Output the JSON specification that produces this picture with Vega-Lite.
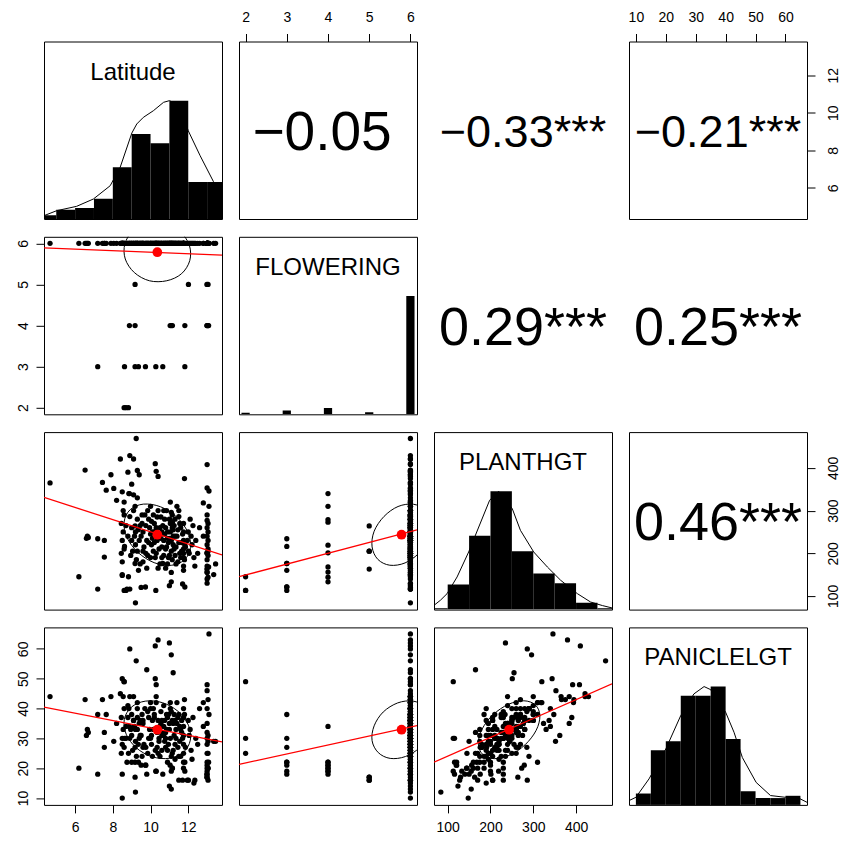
{
"$schema": "https://vega.github.io/schema/vega-lite/v6.json",
"padding": {"left": 15, "top": 9.5, "right": 0, "bottom": 0},
"config": {
 "font": "Liberation Sans",
 "view": {"stroke": "black", "strokeWidth": 1},
 "text": {"font": "Liberation Sans", "color": "black"}
},
"datasets": {
 "obs": [
  {"Latitude":4.67,"FLOWERING":6,"PLANTHGT":365,"PANICLELGT":44},
  {"Latitude":6.2,"FLOWERING":6,"PLANTHGT":145,"PANICLELGT":20},
  {"Latitude":6.53,"FLOWERING":6,"PLANTHGT":395,"PANICLELGT":43},
  {"Latitude":6.7,"FLOWERING":6,"PLANTHGT":237,"PANICLELGT":32},
  {"Latitude":6.6,"FLOWERING":6,"PLANTHGT":235,"PANICLELGT":31},
  {"Latitude":6.65,"FLOWERING":6,"PLANTHGT":240,"PANICLELGT":33},
  {"Latitude":7.2,"FLOWERING":6,"PLANTHGT":116,"PANICLELGT":18},
  {"Latitude":7.45,"FLOWERING":6,"PLANTHGT":366,"PANICLELGT":43},
  {"Latitude":7.65,"FLOWERING":6,"PLANTHGT":348,"PANICLELGT":38},
  {"Latitude":7.55,"FLOWERING":6,"PLANTHGT":191,"PANICLELGT":27},
  {"Latitude":7.55,"FLOWERING":6,"PLANTHGT":230,"PANICLELGT":32},
  {"Latitude":7.9,"FLOWERING":6,"PLANTHGT":384,"PANICLELGT":44},
  {"Latitude":8.05,"FLOWERING":6,"PLANTHGT":352,"PANICLELGT":29},
  {"Latitude":8.2,"FLOWERING":6,"PLANTHGT":324,"PANICLELGT":35},
  {"Latitude":8.4,"FLOWERING":6,"PLANTHGT":421,"PANICLELGT":45},
  {"Latitude":8.5,"FLOWERING":6,"PLANTHGT":344,"PANICLELGT":50},
  {"Latitude":8.6,"FLOWERING":6,"PLANTHGT":320,"PANICLELGT":49},
  {"Latitude":8.5,"FLOWERING":6,"PLANTHGT":150,"PANICLELGT":18},
  {"Latitude":8.5,"FLOWERING":6,"PLANTHGT":148,"PANICLELGT":10},
  {"Latitude":8.45,"FLOWERING":6,"PLANTHGT":270,"PANICLELGT":37},
  {"Latitude":8.55,"FLOWERING":6,"PLANTHGT":250,"PANICLELGT":33},
  {"Latitude":8.5,"FLOWERING":6,"PLANTHGT":230,"PANICLELGT":30},
  {"Latitude":8.6,"FLOWERING":6,"PLANTHGT":210,"PANICLELGT":27},
  {"Latitude":8.45,"FLOWERING":6,"PLANTHGT":200,"PANICLELGT":25},
  {"Latitude":8.6,"FLOWERING":6,"PLANTHGT":290,"PANICLELGT":40},
  {"Latitude":8.5,"FLOWERING":6,"PLANTHGT":180,"PANICLELGT":28},
  {"Latitude":9.24,"FLOWERING":6,"PLANTHGT":469,"PANICLELGT":56},
  {"Latitude":8.9,"FLOWERING":6,"PLANTHGT":429,"PANICLELGT":44},
  {"Latitude":9.1,"FLOWERING":6,"PLANTHGT":421,"PANICLELGT":44},
  {"Latitude":8.9,"FLOWERING":6,"PLANTHGT":286,"PANICLELGT":60},
  {"Latitude":8.8,"FLOWERING":6,"PLANTHGT":390,"PANICLELGT":37},
  {"Latitude":9.3,"FLOWERING":6,"PLANTHGT":394,"PANICLELGT":42},
  {"Latitude":9.4,"FLOWERING":6,"PLANTHGT":384,"PANICLELGT":35},
  {"Latitude":9.0,"FLOWERING":6,"PLANTHGT":362,"PANICLELGT":31},
  {"Latitude":8.85,"FLOWERING":6,"PLANTHGT":340,"PANICLELGT":40},
  {"Latitude":9.1,"FLOWERING":6,"PLANTHGT":337,"PANICLELGT":36},
  {"Latitude":9.3,"FLOWERING":6,"PLANTHGT":330,"PANICLELGT":33},
  {"Latitude":8.75,"FLOWERING":6,"PLANTHGT":116,"PANICLELGT":22},
  {"Latitude":8.9,"FLOWERING":6,"PLANTHGT":116,"PANICLELGT":30},
  {"Latitude":9.2,"FLOWERING":6,"PLANTHGT":84,"PANICLELGT":12},
  {"Latitude":9.5,"FLOWERING":6,"PLANTHGT":120,"PANICLELGT":21},
  {"Latitude":9.0,"FLOWERING":6,"PLANTHGT":260,"PANICLELGT":38},
  {"Latitude":9.15,"FLOWERING":6,"PLANTHGT":240,"PANICLELGT":34},
  {"Latitude":9.2,"FLOWERING":6,"PLANTHGT":220,"PANICLELGT":29},
  {"Latitude":9.05,"FLOWERING":6,"PLANTHGT":205,"PANICLELGT":26},
  {"Latitude":9.3,"FLOWERING":6,"PLANTHGT":280,"PANICLELGT":40},
  {"Latitude":9.25,"FLOWERING":6,"PLANTHGT":185,"PANICLELGT":24},
  {"Latitude":9.1,"FLOWERING":6,"PLANTHGT":300,"PANICLELGT":36},
  {"Latitude":9.8,"FLOWERING":6,"PLANTHGT":165,"PANICLELGT":53},
  {"Latitude":9.75,"FLOWERING":6,"PLANTHGT":200,"PANICLELGT":21},
  {"Latitude":9.8,"FLOWERING":6,"PLANTHGT":230,"PANICLELGT":18},
  {"Latitude":9.6,"FLOWERING":6,"PLANTHGT":250,"PANICLELGT":35},
  {"Latitude":9.55,"FLOWERING":6,"PLANTHGT":270,"PANICLELGT":38},
  {"Latitude":9.7,"FLOWERING":6,"PLANTHGT":290,"PANICLELGT":40},
  {"Latitude":9.9,"FLOWERING":6,"PLANTHGT":225,"PANICLELGT":30},
  {"Latitude":9.65,"FLOWERING":6,"PLANTHGT":215,"PANICLELGT":28},
  {"Latitude":9.95,"FLOWERING":6,"PLANTHGT":260,"PANICLELGT":33},
  {"Latitude":9.5,"FLOWERING":6,"PLANTHGT":240,"PANICLELGT":31},
  {"Latitude":9.85,"FLOWERING":6,"PLANTHGT":195,"PANICLELGT":25},
  {"Latitude":10.0,"FLOWERING":6,"PLANTHGT":310,"PANICLELGT":42},
  {"Latitude":9.6,"FLOWERING":6,"PLANTHGT":180,"PANICLELGT":27},
  {"Latitude":10.25,"FLOWERING":6,"PLANTHGT":410,"PANICLELGT":61},
  {"Latitude":10.4,"FLOWERING":6,"PLANTHGT":380,"PANICLELGT":63},
  {"Latitude":10.3,"FLOWERING":6,"PLANTHGT":392,"PANICLELGT":48},
  {"Latitude":10.3,"FLOWERING":6,"PLANTHGT":240,"PANICLELGT":44},
  {"Latitude":10.3,"FLOWERING":6,"PLANTHGT":200,"PANICLELGT":19},
  {"Latitude":10.1,"FLOWERING":6,"PLANTHGT":250,"PANICLELGT":36},
  {"Latitude":10.2,"FLOWERING":6,"PLANTHGT":270,"PANICLELGT":38},
  {"Latitude":10.35,"FLOWERING":6,"PLANTHGT":230,"PANICLELGT":32},
  {"Latitude":10.45,"FLOWERING":6,"PLANTHGT":210,"PANICLELGT":30},
  {"Latitude":10.15,"FLOWERING":6,"PLANTHGT":290,"PANICLELGT":40},
  {"Latitude":10.5,"FLOWERING":6,"PLANTHGT":260,"PANICLELGT":34},
  {"Latitude":10.05,"FLOWERING":6,"PLANTHGT":220,"PANICLELGT":28},
  {"Latitude":10.4,"FLOWERING":6,"PLANTHGT":300,"PANICLELGT":36},
  {"Latitude":10.25,"FLOWERING":6,"PLANTHGT":190,"PANICLELGT":26},
  {"Latitude":10.45,"FLOWERING":6,"PLANTHGT":245,"PANICLELGT":29},
  {"Latitude":10.1,"FLOWERING":6,"PLANTHGT":235,"PANICLELGT":24},
  {"Latitude":11.0,"FLOWERING":6,"PLANTHGT":235,"PANICLELGT":62},
  {"Latitude":11.1,"FLOWERING":6,"PLANTHGT":296,"PANICLELGT":58},
  {"Latitude":11.2,"FLOWERING":6,"PLANTHGT":255,"PANICLELGT":52},
  {"Latitude":11.0,"FLOWERING":6,"PLANTHGT":124,"PANICLELGT":14},
  {"Latitude":11.1,"FLOWERING":6,"PLANTHGT":155,"PANICLELGT":13},
  {"Latitude":11.05,"FLOWERING":6,"PLANTHGT":270,"PANICLELGT":40},
  {"Latitude":10.9,"FLOWERING":6,"PLANTHGT":250,"PANICLELGT":37},
  {"Latitude":10.7,"FLOWERING":6,"PLANTHGT":230,"PANICLELGT":34},
  {"Latitude":10.8,"FLOWERING":6,"PLANTHGT":210,"PANICLELGT":30},
  {"Latitude":11.15,"FLOWERING":6,"PLANTHGT":290,"PANICLELGT":36},
  {"Latitude":10.65,"FLOWERING":6,"PLANTHGT":265,"PANICLELGT":32},
  {"Latitude":10.95,"FLOWERING":6,"PLANTHGT":190,"PANICLELGT":28},
  {"Latitude":11.2,"FLOWERING":6,"PLANTHGT":220,"PANICLELGT":26},
  {"Latitude":10.85,"FLOWERING":6,"PLANTHGT":300,"PANICLELGT":38},
  {"Latitude":11.0,"FLOWERING":6,"PLANTHGT":280,"PANICLELGT":33},
  {"Latitude":10.75,"FLOWERING":6,"PLANTHGT":245,"PANICLELGT":29},
  {"Latitude":11.1,"FLOWERING":6,"PLANTHGT":205,"PANICLELGT":24},
  {"Latitude":10.9,"FLOWERING":6,"PLANTHGT":175,"PANICLELGT":22},
  {"Latitude":11.05,"FLOWERING":6,"PLANTHGT":320,"PANICLELGT":42},
  {"Latitude":10.7,"FLOWERING":6,"PLANTHGT":195,"PANICLELGT":31},
  {"Latitude":11.2,"FLOWERING":6,"PLANTHGT":240,"PANICLELGT":35},
  {"Latitude":10.8,"FLOWERING":6,"PLANTHGT":260,"PANICLELGT":27},
  {"Latitude":11.15,"FLOWERING":6,"PLANTHGT":185,"PANICLELGT":20},
  {"Latitude":10.95,"FLOWERING":6,"PLANTHGT":225,"PANICLELGT":38},
  {"Latitude":11.8,"FLOWERING":6,"PLANTHGT":375,"PANICLELGT":43},
  {"Latitude":11.7,"FLOWERING":6,"PLANTHGT":128,"PANICLELGT":16},
  {"Latitude":11.5,"FLOWERING":6,"PLANTHGT":286,"PANICLELGT":16},
  {"Latitude":11.75,"FLOWERING":6,"PLANTHGT":250,"PANICLELGT":40},
  {"Latitude":11.75,"FLOWERING":6,"PLANTHGT":230,"PANICLELGT":37},
  {"Latitude":11.75,"FLOWERING":6,"PLANTHGT":210,"PANICLELGT":34},
  {"Latitude":11.75,"FLOWERING":6,"PLANTHGT":190,"PANICLELGT":31},
  {"Latitude":11.75,"FLOWERING":6,"PLANTHGT":270,"PANICLELGT":28},
  {"Latitude":11.75,"FLOWERING":6,"PLANTHGT":170,"PANICLELGT":25},
  {"Latitude":11.75,"FLOWERING":6,"PLANTHGT":200,"PANICLELGT":22},
  {"Latitude":11.75,"FLOWERING":6,"PLANTHGT":160,"PANICLELGT":20},
  {"Latitude":11.4,"FLOWERING":6,"PLANTHGT":240,"PANICLELGT":35},
  {"Latitude":11.6,"FLOWERING":6,"PLANTHGT":260,"PANICLELGT":33},
  {"Latitude":11.35,"FLOWERING":6,"PLANTHGT":215,"PANICLELGT":30},
  {"Latitude":11.5,"FLOWERING":6,"PLANTHGT":300,"PANICLELGT":38},
  {"Latitude":11.45,"FLOWERING":6,"PLANTHGT":180,"PANICLELGT":27},
  {"Latitude":11.65,"FLOWERING":6,"PLANTHGT":225,"PANICLELGT":32},
  {"Latitude":11.3,"FLOWERING":6,"PLANTHGT":280,"PANICLELGT":36},
  {"Latitude":11.55,"FLOWERING":6,"PLANTHGT":200,"PANICLELGT":29},
  {"Latitude":11.4,"FLOWERING":6,"PLANTHGT":310,"PANICLELGT":42},
  {"Latitude":11.6,"FLOWERING":6,"PLANTHGT":190,"PANICLELGT":24},
  {"Latitude":11.95,"FLOWERING":6,"PLANTHGT":230,"PANICLELGT":16},
  {"Latitude":12.2,"FLOWERING":6,"PLANTHGT":220,"PANICLELGT":23},
  {"Latitude":12.3,"FLOWERING":6,"PLANTHGT":190,"PANICLELGT":15},
  {"Latitude":12.35,"FLOWERING":6,"PLANTHGT":170,"PANICLELGT":16},
  {"Latitude":12.6,"FLOWERING":6,"PLANTHGT":260,"PANICLELGT":40},
  {"Latitude":12.8,"FLOWERING":6,"PLANTHGT":318,"PANICLELGT":42},
  {"Latitude":12.8,"FLOWERING":6,"PLANTHGT":240,"PANICLELGT":34},
  {"Latitude":12.1,"FLOWERING":6,"PLANTHGT":280,"PANICLELGT":33},
  {"Latitude":12.4,"FLOWERING":6,"PLANTHGT":230,"PANICLELGT":30},
  {"Latitude":12.5,"FLOWERING":6,"PLANTHGT":200,"PANICLELGT":28},
  {"Latitude":13.1,"FLOWERING":6,"PLANTHGT":346,"PANICLELGT":65},
  {"Latitude":13.0,"FLOWERING":6,"PLANTHGT":408,"PANICLELGT":48},
  {"Latitude":13.0,"FLOWERING":6,"PLANTHGT":353,"PANICLELGT":46},
  {"Latitude":13.1,"FLOWERING":6,"PLANTHGT":310,"PANICLELGT":38},
  {"Latitude":13.0,"FLOWERING":6,"PLANTHGT":277,"PANICLELGT":35},
  {"Latitude":13.0,"FLOWERING":6,"PLANTHGT":260,"PANICLELGT":32},
  {"Latitude":13.0,"FLOWERING":6,"PLANTHGT":240,"PANICLELGT":30},
  {"Latitude":13.0,"FLOWERING":6,"PLANTHGT":220,"PANICLELGT":28},
  {"Latitude":13.0,"FLOWERING":6,"PLANTHGT":200,"PANICLELGT":25},
  {"Latitude":13.0,"FLOWERING":6,"PLANTHGT":185,"PANICLELGT":22},
  {"Latitude":13.0,"FLOWERING":6,"PLANTHGT":170,"PANICLELGT":20},
  {"Latitude":13.0,"FLOWERING":6,"PLANTHGT":155,"PANICLELGT":19},
  {"Latitude":13.0,"FLOWERING":6,"PLANTHGT":140,"PANICLELGT":18},
  {"Latitude":13.0,"FLOWERING":6,"PLANTHGT":130,"PANICLELGT":17},
  {"Latitude":13.05,"FLOWERING":6,"PLANTHGT":250,"PANICLELGT":25},
  {"Latitude":13.05,"FLOWERING":6,"PLANTHGT":230,"PANICLELGT":20},
  {"Latitude":13.05,"FLOWERING":6,"PLANTHGT":210,"PANICLELGT":31},
  {"Latitude":13.05,"FLOWERING":6,"PLANTHGT":195,"PANICLELGT":29},
  {"Latitude":13.35,"FLOWERING":6,"PLANTHGT":150,"PANICLELGT":29},
  {"Latitude":13.45,"FLOWERING":6,"PLANTHGT":175,"PANICLELGT":29},
  {"Latitude":10.25,"FLOWERING":6,"PLANTHGT":251,"PANICLELGT":50},
  {"Latitude":9.45,"FLOWERING":6,"PLANTHGT":265,"PANICLELGT":36},
  {"Latitude":10.55,"FLOWERING":6,"PLANTHGT":285,"PANICLELGT":39},
  {"Latitude":10.6,"FLOWERING":6,"PLANTHGT":215,"PANICLELGT":26},
  {"Latitude":11.25,"FLOWERING":6,"PLANTHGT":265,"PANICLELGT":31},
  {"Latitude":10.0,"FLOWERING":6,"PLANTHGT":245,"PANICLELGT":30},
  {"Latitude":9.9,"FLOWERING":6,"PLANTHGT":280,"PANICLELGT":37},
  {"Latitude":10.7,"FLOWERING":6,"PLANTHGT":300,"PANICLELGT":41},
  {"Latitude":11.3,"FLOWERING":6,"PLANTHGT":195,"PANICLELGT":23},
  {"Latitude":8.7,"FLOWERING":6,"PLANTHGT":265,"PANICLELGT":34},
  {"Latitude":12.0,"FLOWERING":6,"PLANTHGT":250,"PANICLELGT":36},
  {"Latitude":10.5,"FLOWERING":6,"PLANTHGT":175,"PANICLELGT":24},
  {"Latitude":9.35,"FLOWERING":6,"PLANTHGT":255,"PANICLELGT":28},
  {"Latitude":9.2,"FLOWERING":6,"PLANTHGT":250,"PANICLELGT":33},
  {"Latitude":9.4,"FLOWERING":6,"PLANTHGT":230,"PANICLELGT":30},
  {"Latitude":9.6,"FLOWERING":6,"PLANTHGT":205,"PANICLELGT":36},
  {"Latitude":9.75,"FLOWERING":6,"PLANTHGT":265,"PANICLELGT":27},
  {"Latitude":9.85,"FLOWERING":6,"PLANTHGT":300,"PANICLELGT":39},
  {"Latitude":10.05,"FLOWERING":6,"PLANTHGT":275,"PANICLELGT":31},
  {"Latitude":10.15,"FLOWERING":6,"PLANTHGT":205,"PANICLELGT":33},
  {"Latitude":10.2,"FLOWERING":6,"PLANTHGT":225,"PANICLELGT":37},
  {"Latitude":10.35,"FLOWERING":6,"PLANTHGT":285,"PANICLELGT":27},
  {"Latitude":10.4,"FLOWERING":6,"PLANTHGT":165,"PANICLELGT":25},
  {"Latitude":10.55,"FLOWERING":6,"PLANTHGT":235,"PANICLELGT":35},
  {"Latitude":10.6,"FLOWERING":6,"PLANTHGT":250,"PANICLELGT":31},
  {"Latitude":10.75,"FLOWERING":6,"PLANTHGT":280,"PANICLELGT":36},
  {"Latitude":10.85,"FLOWERING":6,"PLANTHGT":215,"PANICLELGT":33},
  {"Latitude":10.9,"FLOWERING":6,"PLANTHGT":235,"PANICLELGT":26},
  {"Latitude":11.0,"FLOWERING":6,"PLANTHGT":195,"PANICLELGT":35},
  {"Latitude":11.05,"FLOWERING":6,"PLANTHGT":250,"PANICLELGT":30},
  {"Latitude":11.1,"FLOWERING":6,"PLANTHGT":230,"PANICLELGT":39},
  {"Latitude":11.15,"FLOWERING":6,"PLANTHGT":260,"PANICLELGT":25},
  {"Latitude":11.25,"FLOWERING":6,"PLANTHGT":210,"PANICLELGT":38},
  {"Latitude":11.3,"FLOWERING":6,"PLANTHGT":240,"PANICLELGT":28},
  {"Latitude":11.35,"FLOWERING":6,"PLANTHGT":175,"PANICLELGT":33},
  {"Latitude":11.45,"FLOWERING":6,"PLANTHGT":255,"PANICLELGT":37},
  {"Latitude":11.5,"FLOWERING":6,"PLANTHGT":225,"PANICLELGT":24},
  {"Latitude":11.55,"FLOWERING":6,"PLANTHGT":270,"PANICLELGT":34},
  {"Latitude":11.65,"FLOWERING":6,"PLANTHGT":205,"PANICLELGT":36},
  {"Latitude":11.7,"FLOWERING":6,"PLANTHGT":245,"PANICLELGT":30},
  {"Latitude":11.8,"FLOWERING":6,"PLANTHGT":185,"PANICLELGT":38},
  {"Latitude":11.85,"FLOWERING":6,"PLANTHGT":215,"PANICLELGT":27},
  {"Latitude":12.05,"FLOWERING":6,"PLANTHGT":200,"PANICLELGT":31},
  {"Latitude":12.15,"FLOWERING":6,"PLANTHGT":240,"PANICLELGT":26},
  {"Latitude":12.25,"FLOWERING":6,"PLANTHGT":265,"PANICLELGT":37},
  {"Latitude":9.0,"FLOWERING":6,"PLANTHGT":230,"PANICLELGT":22},
  {"Latitude":8.8,"FLOWERING":6,"PLANTHGT":240,"PANICLELGT":41},
  {"Latitude":8.95,"FLOWERING":6,"PLANTHGT":195,"PANICLELGT":33},
  {"Latitude":9.3,"FLOWERING":6,"PLANTHGT":205,"PANICLELGT":37},
  {"Latitude":9.45,"FLOWERING":6,"PLANTHGT":175,"PANICLELGT":31},
  {"Latitude":9.55,"FLOWERING":6,"PLANTHGT":290,"PANICLELGT":24},
  {"Latitude":10.0,"FLOWERING":6,"PLANTHGT":190,"PANICLELGT":40},
  {"Latitude":10.3,"FLOWERING":6,"PLANTHGT":260,"PANICLELGT":42},
  {"Latitude":10.6,"FLOWERING":6,"PLANTHGT":190,"PANICLELGT":36},
  {"Latitude":10.8,"FLOWERING":6,"PLANTHGT":165,"PANICLELGT":32},
  {"Latitude":13.0,"FLOWERING":6,"PLANTHGT":290,"PANICLELGT":40},
  {"Latitude":13.05,"FLOWERING":6,"PLANTHGT":270,"PANICLELGT":43},
  {"Latitude":8.55,"FLOWERING":6,"PLANTHGT":300,"PANICLELGT":44},
  {"Latitude":8.6,"FLOWERING":2,"PLANTHGT":113,"PANICLELGT":49},
  {"Latitude":8.83,"FLOWERING":2,"PLANTHGT":145,"PANICLELGT":25},
  {"Latitude":8.7,"FLOWERING":2,"PLANTHGT":113,"PANICLELGT":30},
  {"Latitude":7.2,"FLOWERING":3,"PLANTHGT":234,"PANICLELGT":38},
  {"Latitude":8.62,"FLOWERING":3,"PLANTHGT":216,"PANICLELGT":30},
  {"Latitude":9.18,"FLOWERING":3,"PLANTHGT":176,"PANICLELGT":27},
  {"Latitude":9.36,"FLOWERING":3,"PLANTHGT":160,"PANICLELGT":22},
  {"Latitude":9.73,"FLOWERING":3,"PLANTHGT":121,"PANICLELGT":21},
  {"Latitude":10.28,"FLOWERING":3,"PLANTHGT":113,"PANICLELGT":19},
  {"Latitude":10.65,"FLOWERING":3,"PLANTHGT":176,"PANICLELGT":18},
  {"Latitude":11.82,"FLOWERING":3,"PLANTHGT":121,"PANICLELGT":22},
  {"Latitude":8.88,"FLOWERING":4,"PLANTHGT":340,"PANICLELGT":34},
  {"Latitude":9.18,"FLOWERING":4,"PLANTHGT":310,"PANICLELGT":22},
  {"Latitude":11.04,"FLOWERING":4,"PLANTHGT":279,"PANICLELGT":21},
  {"Latitude":11.16,"FLOWERING":4,"PLANTHGT":273,"PANICLELGT":20},
  {"Latitude":11.82,"FLOWERING":4,"PLANTHGT":219,"PANICLELGT":19},
  {"Latitude":12.99,"FLOWERING":4,"PLANTHGT":201,"PANICLELGT":18},
  {"Latitude":13.08,"FLOWERING":4,"PLANTHGT":168,"PANICLELGT":22},
  {"Latitude":13.0,"FLOWERING":4,"PLANTHGT":156,"PANICLELGT":21},
  {"Latitude":13.05,"FLOWERING":4,"PLANTHGT":144,"PANICLELGT":20},
  {"Latitude":11.1,"FLOWERING":4,"PLANTHGT":133,"PANICLELGT":19},
  {"Latitude":9.18,"FLOWERING":5,"PLANTHGT":264,"PANICLELGT":17},
  {"Latitude":12.01,"FLOWERING":5,"PLANTHGT":205,"PANICLELGT":16},
  {"Latitude":12.99,"FLOWERING":5,"PLANTHGT":163,"PANICLELGT":17},
  {"Latitude":13.05,"FLOWERING":5,"PLANTHGT":205,"PANICLELGT":16}
 ],
 "hist": [
  {"variable":"Latitude","start":4,"end":5,"count":2},
  {"variable":"Latitude","start":5,"end":6,"count":5},
  {"variable":"Latitude","start":6,"end":7,"count":6},
  {"variable":"Latitude","start":7,"end":8,"count":11},
  {"variable":"Latitude","start":8,"end":9,"count":28},
  {"variable":"Latitude","start":9,"end":10,"count":46},
  {"variable":"Latitude","start":10,"end":11,"count":41},
  {"variable":"Latitude","start":11,"end":12,"count":64},
  {"variable":"Latitude","start":12,"end":13,"count":20},
  {"variable":"Latitude","start":13,"end":14,"count":20},
  {"variable":"FLOWERING","start":1.9,"end":2.1,"count":3},
  {"variable":"FLOWERING","start":2.9,"end":3.1,"count":7},
  {"variable":"FLOWERING","start":3.9,"end":4.1,"count":12},
  {"variable":"FLOWERING","start":4.9,"end":5.1,"count":4},
  {"variable":"FLOWERING","start":5.9,"end":6.1,"count":224},
  {"variable":"PLANTHGT","start":50,"end":100,"count":1},
  {"variable":"PLANTHGT","start":100,"end":150,"count":18},
  {"variable":"PLANTHGT","start":150,"end":200,"count":53},
  {"variable":"PLANTHGT","start":200,"end":250,"count":85},
  {"variable":"PLANTHGT","start":250,"end":300,"count":42},
  {"variable":"PLANTHGT","start":300,"end":350,"count":26},
  {"variable":"PLANTHGT","start":350,"end":400,"count":19},
  {"variable":"PLANTHGT","start":400,"end":450,"count":5},
  {"variable":"PLANTHGT","start":450,"end":500,"count":1},
  {"variable":"PANICLELGT","start":10,"end":15,"count":5},
  {"variable":"PANICLELGT","start":15,"end":20,"count":24},
  {"variable":"PANICLELGT","start":20,"end":25,"count":28},
  {"variable":"PANICLELGT","start":25,"end":30,"count":48},
  {"variable":"PANICLELGT","start":30,"end":35,"count":48},
  {"variable":"PANICLELGT","start":35,"end":40,"count":52},
  {"variable":"PANICLELGT","start":40,"end":45,"count":29},
  {"variable":"PANICLELGT","start":45,"end":50,"count":6},
  {"variable":"PANICLELGT","start":50,"end":55,"count":3},
  {"variable":"PANICLELGT","start":55,"end":60,"count":3},
  {"variable":"PANICLELGT","start":60,"end":65,"count":4}
 ],
 "density": [
  {"variable":"Latitude","value":4.35,"relative":0.028},
  {"variable":"Latitude","value":5.02,"relative":0.07},
  {"variable":"Latitude","value":6.08,"relative":0.107},
  {"variable":"Latitude","value":6.97,"relative":0.169},
  {"variable":"Latitude","value":7.86,"relative":0.281},
  {"variable":"Latitude","value":8.39,"relative":0.437},
  {"variable":"Latitude","value":9.01,"relative":0.727},
  {"variable":"Latitude","value":9.27,"relative":0.803},
  {"variable":"Latitude","value":9.62,"relative":0.859},
  {"variable":"Latitude","value":10.15,"relative":0.915},
  {"variable":"Latitude","value":10.69,"relative":0.986},
  {"variable":"Latitude","value":11.0,"relative":1.0},
  {"variable":"Latitude","value":11.4,"relative":0.97},
  {"variable":"Latitude","value":11.75,"relative":0.87},
  {"variable":"Latitude","value":12.0,"relative":0.746},
  {"variable":"Latitude","value":12.63,"relative":0.535},
  {"variable":"Latitude","value":13.34,"relative":0.315},
  {"variable":"Latitude","value":13.79,"relative":0.2},
  {"variable":"PLANTHGT","value":68,"relative":0.036},
  {"variable":"PLANTHGT","value":83,"relative":0.079},
  {"variable":"PLANTHGT","value":98.6,"relative":0.135},
  {"variable":"PLANTHGT","value":122,"relative":0.276},
  {"variable":"PLANTHGT","value":149,"relative":0.487},
  {"variable":"PLANTHGT","value":172.6,"relative":0.698},
  {"variable":"PLANTHGT","value":198,"relative":0.924},
  {"variable":"PLANTHGT","value":219,"relative":1.0},
  {"variable":"PLANTHGT","value":250.8,"relative":0.854},
  {"variable":"PLANTHGT","value":270,"relative":0.67},
  {"variable":"PLANTHGT","value":301,"relative":0.487},
  {"variable":"PLANTHGT","value":333,"relative":0.36},
  {"variable":"PLANTHGT","value":364,"relative":0.248},
  {"variable":"PLANTHGT","value":403,"relative":0.135},
  {"variable":"PLANTHGT","value":434,"relative":0.064},
  {"variable":"PLANTHGT","value":461.6,"relative":0.034},
  {"variable":"PLANTHGT","value":484,"relative":0.014},
  {"variable":"PANICLELGT","value":7.7,"relative":0.036},
  {"variable":"PANICLELGT","value":10,"relative":0.064},
  {"variable":"PANICLELGT","value":14.4,"relative":0.22},
  {"variable":"PANICLELGT","value":20,"relative":0.473},
  {"variable":"PANICLELGT","value":25,"relative":0.755},
  {"variable":"PANICLELGT","value":29.4,"relative":0.938},
  {"variable":"PANICLELGT","value":32.8,"relative":1.0},
  {"variable":"PANICLELGT","value":35,"relative":0.974},
  {"variable":"PANICLELGT","value":40,"relative":0.783},
  {"variable":"PANICLELGT","value":42.8,"relative":0.614},
  {"variable":"PANICLELGT","value":45.6,"relative":0.4},
  {"variable":"PANICLELGT","value":50.2,"relative":0.19},
  {"variable":"PANICLELGT","value":55,"relative":0.079},
  {"variable":"PANICLELGT","value":60,"relative":0.064},
  {"variable":"PANICLELGT","value":63.9,"relative":0.064},
  {"variable":"PANICLELGT","value":67.2,"relative":0.022}
 ],
 "ellipse": [
  {"pair":"Latitude|FLOWERING","k":0,"x":11.58,"y":6.28},
  {"pair":"Latitude|FLOWERING","k":1,"x":10.78,"y":6.48},
  {"pair":"Latitude|FLOWERING","k":2,"x":9.86,"y":6.48},
  {"pair":"Latitude|FLOWERING","k":3,"x":9.08,"y":6.31},
  {"pair":"Latitude|FLOWERING","k":4,"x":8.64,"y":5.99},
  {"pair":"Latitude|FLOWERING","k":5,"x":8.66,"y":5.62},
  {"pair":"Latitude|FLOWERING","k":6,"x":9.14,"y":5.29},
  {"pair":"Latitude|FLOWERING","k":7,"x":9.94,"y":5.09},
  {"pair":"Latitude|FLOWERING","k":8,"x":10.86,"y":5.09},
  {"pair":"Latitude|FLOWERING","k":9,"x":11.64,"y":5.26},
  {"pair":"Latitude|FLOWERING","k":10,"x":12.08,"y":5.58},
  {"pair":"Latitude|FLOWERING","k":11,"x":12.06,"y":5.95},
  {"pair":"Latitude|PLANTHGT","k":0,"x":11.38,"y":285.2},
  {"pair":"Latitude|PLANTHGT","k":1,"x":10.53,"y":309.0},
  {"pair":"Latitude|PLANTHGT","k":2,"x":9.62,"y":315.2},
  {"pair":"Latitude|PLANTHGT","k":3,"x":8.92,"y":302.2},
  {"pair":"Latitude|PLANTHGT","k":4,"x":8.60,"y":273.5},
  {"pair":"Latitude|PLANTHGT","k":5,"x":8.75,"y":236.8},
  {"pair":"Latitude|PLANTHGT","k":6,"x":9.34,"y":201.8},
  {"pair":"Latitude|PLANTHGT","k":7,"x":10.19,"y":178.0},
  {"pair":"Latitude|PLANTHGT","k":8,"x":11.10,"y":171.8},
  {"pair":"Latitude|PLANTHGT","k":9,"x":11.80,"y":184.8},
  {"pair":"Latitude|PLANTHGT","k":10,"x":12.12,"y":213.5},
  {"pair":"Latitude|PLANTHGT","k":11,"x":11.97,"y":250.2},
  {"pair":"Latitude|PANICLELGT","k":0,"x":11.47,"y":39.0},
  {"pair":"Latitude|PANICLELGT","k":1,"x":10.64,"y":41.95},
  {"pair":"Latitude|PANICLELGT","k":2,"x":9.72,"y":42.48},
  {"pair":"Latitude|PANICLELGT","k":3,"x":8.98,"y":40.45},
  {"pair":"Latitude|PANICLELGT","k":4,"x":8.61,"y":36.39},
  {"pair":"Latitude|PANICLELGT","k":5,"x":8.71,"y":31.39},
  {"pair":"Latitude|PANICLELGT","k":6,"x":9.25,"y":26.8},
  {"pair":"Latitude|PANICLELGT","k":7,"x":10.08,"y":23.85},
  {"pair":"Latitude|PANICLELGT","k":8,"x":11.0,"y":23.32},
  {"pair":"Latitude|PANICLELGT","k":9,"x":11.74,"y":25.35},
  {"pair":"Latitude|PANICLELGT","k":10,"x":12.11,"y":29.41},
  {"pair":"Latitude|PANICLELGT","k":11,"x":12.01,"y":34.41},
  {"pair":"FLOWERING|PLANTHGT","k":0,"x":6.36,"y":301.3},
  {"pair":"FLOWERING|PLANTHGT","k":1,"x":6.07,"y":315.0},
  {"pair":"FLOWERING|PLANTHGT","k":2,"x":5.70,"y":309.6},
  {"pair":"FLOWERING|PLANTHGT","k":3,"x":5.36,"y":286.4},
  {"pair":"FLOWERING|PLANTHGT","k":4,"x":5.12,"y":251.7},
  {"pair":"FLOWERING|PLANTHGT","k":5,"x":5.07,"y":214.9},
  {"pair":"FLOWERING|PLANTHGT","k":6,"x":5.21,"y":185.7},
  {"pair":"FLOWERING|PLANTHGT","k":7,"x":5.50,"y":172.0},
  {"pair":"FLOWERING|PLANTHGT","k":8,"x":5.87,"y":177.4},
  {"pair":"FLOWERING|PLANTHGT","k":9,"x":6.21,"y":200.6},
  {"pair":"FLOWERING|PLANTHGT","k":10,"x":6.45,"y":235.3},
  {"pair":"FLOWERING|PLANTHGT","k":11,"x":6.50,"y":272.1},
  {"pair":"FLOWERING|PANICLELGT","k":0,"x":6.35,"y":40.57},
  {"pair":"FLOWERING|PANICLELGT","k":1,"x":6.06,"y":42.51},
  {"pair":"FLOWERING|PANICLELGT","k":2,"x":5.69,"y":41.88},
  {"pair":"FLOWERING|PANICLELGT","k":3,"x":5.34,"y":38.84},
  {"pair":"FLOWERING|PANICLELGT","k":4,"x":5.12,"y":34.21},
  {"pair":"FLOWERING|PANICLELGT","k":5,"x":5.07,"y":29.23},
  {"pair":"FLOWERING|PANICLELGT","k":6,"x":5.22,"y":25.23},
  {"pair":"FLOWERING|PANICLELGT","k":7,"x":5.51,"y":23.29},
  {"pair":"FLOWERING|PANICLELGT","k":8,"x":5.88,"y":23.92},
  {"pair":"FLOWERING|PANICLELGT","k":9,"x":6.23,"y":26.96},
  {"pair":"FLOWERING|PANICLELGT","k":10,"x":6.45,"y":31.59},
  {"pair":"FLOWERING|PANICLELGT","k":11,"x":6.50,"y":36.57},
  {"pair":"PLANTHGT|PANICLELGT","k":0,"x":305.0,"y":41.19},
  {"pair":"PLANTHGT|PANICLELGT","k":1,"x":278.1,"y":42.6},
  {"pair":"PLANTHGT|PANICLELGT","k":2,"x":241.9,"y":41.41},
  {"pair":"PLANTHGT|PANICLELGT","k":3,"x":206.1,"y":37.94},
  {"pair":"PLANTHGT|PANICLELGT","k":4,"x":180.4,"y":33.12},
  {"pair":"PLANTHGT|PANICLELGT","k":5,"x":171.5,"y":28.24},
  {"pair":"PLANTHGT|PANICLELGT","k":6,"x":182.0,"y":24.61},
  {"pair":"PLANTHGT|PANICLELGT","k":7,"x":208.9,"y":23.2},
  {"pair":"PLANTHGT|PANICLELGT","k":8,"x":245.1,"y":24.39},
  {"pair":"PLANTHGT|PANICLELGT","k":9,"x":280.9,"y":27.86},
  {"pair":"PLANTHGT|PANICLELGT","k":10,"x":306.7,"y":32.68},
  {"pair":"PLANTHGT|PANICLELGT","k":11,"x":315.5,"y":37.56}
 ],
 "fit": [
  {"pair":"Latitude|FLOWERING","x":4.35,"y":5.89},
  {"pair":"Latitude|FLOWERING","x":13.79,"y":5.715},
  {"pair":"Latitude|PLANTHGT","x":4.35,"y":331},
  {"pair":"Latitude|PLANTHGT","x":13.79,"y":196},
  {"pair":"Latitude|PANICLELGT","x":4.35,"y":40.5},
  {"pair":"Latitude|PANICLELGT","x":13.79,"y":28.8},
  {"pair":"FLOWERING|PLANTHGT","x":1.84,"y":145},
  {"pair":"FLOWERING|PLANTHGT","x":6.16,"y":255},
  {"pair":"FLOWERING|PANICLELGT","x":1.84,"y":21.3},
  {"pair":"FLOWERING|PANICLELGT","x":6.16,"y":34.3},
  {"pair":"PLANTHGT|PANICLELGT","x":68,"y":22.0},
  {"pair":"PLANTHGT|PANICLELGT","x":484,"y":48.3}
 ],
 "centre": [
  {"pair":"Latitude|FLOWERING","x":10.36,"y":5.785},
  {"pair":"Latitude|PLANTHGT","x":10.36,"y":243.5},
  {"pair":"Latitude|PANICLELGT","x":10.36,"y":32.9},
  {"pair":"FLOWERING|PLANTHGT","x":5.785,"y":243.5},
  {"pair":"FLOWERING|PANICLELGT","x":5.785,"y":32.9},
  {"pair":"PLANTHGT|PANICLELGT","x":243.5,"y":32.9}
 ],
 "cor": [
  {"pair":"Latitude|FLOWERING","r":-0.05,"label":"−0.05"},
  {"pair":"Latitude|PLANTHGT","r":-0.33,"label":"−0.33***"},
  {"pair":"Latitude|PANICLELGT","r":-0.21,"label":"−0.21***"},
  {"pair":"FLOWERING|PLANTHGT","r":0.29,"label":"0.29***"},
  {"pair":"FLOWERING|PANICLELGT","r":0.25,"label":"0.25***"},
  {"pair":"PLANTHGT|PANICLELGT","r":0.46,"label":"0.46***"}
 ],
 "variables": [
  {"name":"Latitude"},{"name":"FLOWERING"},{"name":"PLANTHGT"},{"name":"PANICLELGT"}
 ]
},
"columns": 4,
"spacing": {"row": 17.3, "column": 17},
"bounds": "flush",
"concat": [
 {"width":178,"height":177.5,"resolve":{"scale":{"y":"independent"}},"layer":[
  {"data":{"name":"hist"},"transform":[{"filter":"datum.variable == 'Latitude'"}],"mark":{"type":"rect","color":"black","clip":true},
   "encoding":{"x":{"field":"start","type":"quantitative","scale":{"domain":[4.35,13.79],"nice":false,"zero":false},"axis":null},"x2":{"field":"end"},
   "y":{"field":"count","type":"quantitative","scale":{"domain":[0,96],"nice":false},"axis":null},"y2":{"datum":0}}},
  {"data":{"name":"density"},"transform":[{"filter":"datum.variable == 'Latitude'"}],"mark":{"type":"line","color":"black","strokeWidth":1,"clip":true},
   "encoding":{"x":{"field":"value","type":"quantitative","scale":{"domain":[4.35,13.79],"nice":false,"zero":false},"axis":null},
   "y":{"field":"relative","type":"quantitative","scale":{"domain":[0,1.5],"nice":false},"axis":null}}},
  {"data":{"name":"variables"},"transform":[{"filter":"datum.name == 'Latitude'"}],"mark":{"type":"text","fontSize":24,"baseline":"middle","dy":-57},"encoding":{"text":{"field":"name"}}}
 ]},
 {"width":178,"height":177.5,"layer":[
  {"data":{"name":"obs"},"mark":{"type":"point","opacity":0},
   "encoding":{"x":{"field":"FLOWERING","type":"quantitative","scale":{"domain":[1.84,6.16],"nice":false,"zero":false},"axis":{"orient":"top","values":[2,3,4,5,6],"title":null,"domain":false,"grid":false,"tickColor":"black","tickSize":8,"tickWidth":1,"labelColor":"black","labelFont":"Liberation Sans","labelFontSize":14,"labelBaseline":"alphabetic","labelPadding":12,"labelFlush":false,"labelOverlap":false}}}},
  {"data":{"name":"cor"},"transform":[{"filter":"datum.pair == 'Latitude|FLOWERING'"}],"mark":{"type":"text","fontSize":55,"baseline":"middle","dy":3,"dx":-6},"encoding":{"text":{"field":"label"}}}
 ]},
 {"width":178,"height":177.5,"data":{"name":"cor"},"transform":[{"filter":"datum.pair == 'Latitude|PLANTHGT'"}],"mark":{"type":"text","fontSize":45,"baseline":"middle","dy":3},"encoding":{"text":{"field":"label"}}},
 {"width":178,"height":177.5,"layer":[
  {"data":{"name":"obs"},"mark":{"type":"point","opacity":0},
   "encoding":{"x":{"field":"PANICLELGT","type":"quantitative","scale":{"domain":[7.7,67.2],"nice":false,"zero":false},"axis":{"orient":"top","values":[10,20,30,40,50,60],"title":null,"domain":false,"grid":false,"tickColor":"black","tickSize":8,"tickWidth":1,"labelColor":"black","labelFont":"Liberation Sans","labelFontSize":14,"labelBaseline":"alphabetic","labelPadding":12,"labelFlush":false,"labelOverlap":false}},
   "y":{"field":"Latitude","type":"quantitative","scale":{"domain":[4.35,13.79],"nice":false,"zero":false},"axis":{"orient":"right","values":[6,8,10,12],"title":null,"domain":false,"grid":false,"tickColor":"black","tickSize":8,"tickWidth":1,"labelColor":"black","labelFont":"Liberation Sans","labelFontSize":14,"labelAngle":-90,"labelPadding":11,"labelFlush":false,"labelOverlap":false}}}},
  {"data":{"name":"cor"},"transform":[{"filter":"datum.pair == 'Latitude|PANICLELGT'"}],"mark":{"type":"text","fontSize":45,"baseline":"middle","dy":3},"encoding":{"text":{"field":"label"}}}
 ]},
 {"width":178,"height":177.5,"layer":[
  {"data":{"name":"obs"},"mark":{"type":"circle","size":28,"color":"black","opacity":1},
   "encoding":{"x":{"field":"Latitude","type":"quantitative","scale":{"domain":[4.35,13.79],"nice":false,"zero":false},"axis":null},
   "y":{"field":"FLOWERING","type":"quantitative","scale":{"domain":[1.84,6.16],"nice":false,"zero":false},"axis":{"orient":"left","values":[2,3,4,5,6],"title":null,"domain":false,"grid":false,"tickColor":"black","tickSize":8,"tickWidth":1,"labelColor":"black","labelFont":"Liberation Sans","labelFontSize":14,"labelAngle":-90,"labelPadding":6,"labelFlush":false,"labelOverlap":false}}}},
  {"data":{"name":"ellipse"},"transform":[{"filter":"datum.pair == 'Latitude|FLOWERING'"}],"mark":{"type":"line","color":"black","strokeWidth":1,"interpolate":"cardinal-closed","clip":true},
   "encoding":{"x":{"field":"x","type":"quantitative","axis":null},"y":{"field":"y","type":"quantitative","axis":{"orient":"left","values":[2,3,4,5,6],"title":null,"domain":false,"grid":false,"tickColor":"black","tickSize":8,"tickWidth":1,"labelColor":"black","labelFont":"Liberation Sans","labelFontSize":14,"labelAngle":-90,"labelPadding":6,"labelFlush":false,"labelOverlap":false}},"order":{"field":"k"}}},
  {"data":{"name":"fit"},"transform":[{"filter":"datum.pair == 'Latitude|FLOWERING'"}],"mark":{"type":"line","color":"red","strokeWidth":1.3,"clip":true},
   "encoding":{"x":{"field":"x","type":"quantitative","axis":null},"y":{"field":"y","type":"quantitative","axis":{"orient":"left","values":[2,3,4,5,6],"title":null,"domain":false,"grid":false,"tickColor":"black","tickSize":8,"tickWidth":1,"labelColor":"black","labelFont":"Liberation Sans","labelFontSize":14,"labelAngle":-90,"labelPadding":6,"labelFlush":false,"labelOverlap":false}}}},
  {"data":{"name":"centre"},"transform":[{"filter":"datum.pair == 'Latitude|FLOWERING'"}],"mark":{"type":"circle","size":95,"color":"red","opacity":1},
   "encoding":{"x":{"field":"x","type":"quantitative","axis":null},"y":{"field":"y","type":"quantitative","axis":{"orient":"left","values":[2,3,4,5,6],"title":null,"domain":false,"grid":false,"tickColor":"black","tickSize":8,"tickWidth":1,"labelColor":"black","labelFont":"Liberation Sans","labelFontSize":14,"labelAngle":-90,"labelPadding":6,"labelFlush":false,"labelOverlap":false}}}}
 ]},
 {"width":178,"height":177.5,"layer":[
  {"data":{"name":"hist"},"transform":[{"filter":"datum.variable == 'FLOWERING'"}],"mark":{"type":"rect","color":"black","clip":true},
   "encoding":{"x":{"field":"start","type":"quantitative","scale":{"domain":[1.84,6.16],"nice":false,"zero":false},"axis":null},"x2":{"field":"end"},
   "y":{"field":"count","type":"quantitative","scale":{"domain":[0,336],"nice":false},"axis":null},"y2":{"datum":0}}},
  {"data":{"name":"variables"},"transform":[{"filter":"datum.name == 'FLOWERING'"}],"mark":{"type":"text","fontSize":24,"baseline":"middle","dy":-58},"encoding":{"text":{"field":"name"}}}
 ]},
 {"width":178,"height":177.5,"data":{"name":"cor"},"transform":[{"filter":"datum.pair == 'FLOWERING|PLANTHGT'"}],"mark":{"type":"text","fontSize":54,"baseline":"middle","dy":3},"encoding":{"text":{"field":"label"}}},
 {"width":178,"height":177.5,"data":{"name":"cor"},"transform":[{"filter":"datum.pair == 'FLOWERING|PANICLELGT'"}],"mark":{"type":"text","fontSize":54,"baseline":"middle","dy":3},"encoding":{"text":{"field":"label"}}},
 {"width":178,"height":177.5,"layer":[
  {"data":{"name":"obs"},"mark":{"type":"circle","size":28,"color":"black","opacity":1},
   "encoding":{"x":{"field":"Latitude","type":"quantitative","scale":{"domain":[4.35,13.79],"nice":false,"zero":false},"axis":null},
   "y":{"field":"PLANTHGT","type":"quantitative","scale":{"domain":[68,484],"nice":false,"zero":false},"axis":null}}},
  {"data":{"name":"ellipse"},"transform":[{"filter":"datum.pair == 'Latitude|PLANTHGT'"}],"mark":{"type":"line","color":"black","strokeWidth":1,"interpolate":"cardinal-closed","clip":true},
   "encoding":{"x":{"field":"x","type":"quantitative","axis":null},"y":{"field":"y","type":"quantitative","axis":null},"order":{"field":"k"}}},
  {"data":{"name":"fit"},"transform":[{"filter":"datum.pair == 'Latitude|PLANTHGT'"}],"mark":{"type":"line","color":"red","strokeWidth":1.3,"clip":true},
   "encoding":{"x":{"field":"x","type":"quantitative","axis":null},"y":{"field":"y","type":"quantitative","axis":null}}},
  {"data":{"name":"centre"},"transform":[{"filter":"datum.pair == 'Latitude|PLANTHGT'"}],"mark":{"type":"circle","size":95,"color":"red","opacity":1},
   "encoding":{"x":{"field":"x","type":"quantitative","axis":null},"y":{"field":"y","type":"quantitative","axis":null}}}
 ]},
 {"width":178,"height":177.5,"layer":[
  {"data":{"name":"obs"},"mark":{"type":"circle","size":28,"color":"black","opacity":1},
   "encoding":{"x":{"field":"FLOWERING","type":"quantitative","scale":{"domain":[1.84,6.16],"nice":false,"zero":false},"axis":null},
   "y":{"field":"PLANTHGT","type":"quantitative","scale":{"domain":[68,484],"nice":false,"zero":false},"axis":null}}},
  {"data":{"name":"ellipse"},"transform":[{"filter":"datum.pair == 'FLOWERING|PLANTHGT'"}],"mark":{"type":"line","color":"black","strokeWidth":1,"interpolate":"cardinal-closed","clip":true},
   "encoding":{"x":{"field":"x","type":"quantitative","axis":null},"y":{"field":"y","type":"quantitative","axis":null},"order":{"field":"k"}}},
  {"data":{"name":"fit"},"transform":[{"filter":"datum.pair == 'FLOWERING|PLANTHGT'"}],"mark":{"type":"line","color":"red","strokeWidth":1.3,"clip":true},
   "encoding":{"x":{"field":"x","type":"quantitative","axis":null},"y":{"field":"y","type":"quantitative","axis":null}}},
  {"data":{"name":"centre"},"transform":[{"filter":"datum.pair == 'FLOWERING|PLANTHGT'"}],"mark":{"type":"circle","size":95,"color":"red","opacity":1},
   "encoding":{"x":{"field":"x","type":"quantitative","axis":null},"y":{"field":"y","type":"quantitative","axis":null}}}
 ]},
 {"width":178,"height":177.5,"resolve":{"scale":{"y":"independent"}},"layer":[
  {"data":{"name":"hist"},"transform":[{"filter":"datum.variable == 'PLANTHGT'"}],"mark":{"type":"rect","color":"black","clip":true},
   "encoding":{"x":{"field":"start","type":"quantitative","scale":{"domain":[68,484],"nice":false,"zero":false},"axis":null},"x2":{"field":"end"},
   "y":{"field":"count","type":"quantitative","scale":{"domain":[0,127.5],"nice":false},"axis":null},"y2":{"datum":0}}},
  {"data":{"name":"density"},"transform":[{"filter":"datum.variable == 'PLANTHGT'"}],"mark":{"type":"line","color":"black","strokeWidth":1,"clip":true},
   "encoding":{"x":{"field":"value","type":"quantitative","scale":{"domain":[68,484],"nice":false,"zero":false},"axis":null},
   "y":{"field":"relative","type":"quantitative","scale":{"domain":[0,1.5],"nice":false},"axis":null}}},
  {"data":{"name":"variables"},"transform":[{"filter":"datum.name == 'PLANTHGT'"}],"mark":{"type":"text","fontSize":24,"baseline":"middle","dy":-58},"encoding":{"text":{"field":"name"}}}
 ]},
 {"width":178,"height":177.5,"layer":[
  {"data":{"name":"obs"},"mark":{"type":"point","opacity":0},
   "encoding":{"x":{"field":"PANICLELGT","type":"quantitative","scale":{"domain":[7.7,67.2],"nice":false,"zero":false},"axis":null},
   "y":{"field":"PLANTHGT","type":"quantitative","scale":{"domain":[68,484],"nice":false,"zero":false},"axis":{"orient":"right","values":[100,200,300,400],"title":null,"domain":false,"grid":false,"tickColor":"black","tickSize":8,"tickWidth":1,"labelColor":"black","labelFont":"Liberation Sans","labelFontSize":14,"labelAngle":-90,"labelPadding":11,"labelFlush":false,"labelOverlap":false}}}},
  {"data":{"name":"cor"},"transform":[{"filter":"datum.pair == 'PLANTHGT|PANICLELGT'"}],"mark":{"type":"text","fontSize":54,"baseline":"middle","dy":3},"encoding":{"text":{"field":"label"}}}
 ]},
 {"width":178,"height":177.5,"layer":[
  {"data":{"name":"obs"},"mark":{"type":"circle","size":28,"color":"black","opacity":1},
   "encoding":{"x":{"field":"Latitude","type":"quantitative","scale":{"domain":[4.35,13.79],"nice":false,"zero":false},"axis":{"orient":"bottom","values":[6,8,10,12],"title":null,"domain":false,"grid":false,"tickColor":"black","tickSize":8,"tickWidth":1,"labelColor":"black","labelFont":"Liberation Sans","labelFontSize":14,"labelBaseline":"top","labelPadding":8,"labelFlush":false,"labelOverlap":false}},
   "y":{"field":"PANICLELGT","type":"quantitative","scale":{"domain":[7.7,67.2],"nice":false,"zero":false},"axis":{"orient":"left","values":[10,20,30,40,50,60],"title":null,"domain":false,"grid":false,"tickColor":"black","tickSize":8,"tickWidth":1,"labelColor":"black","labelFont":"Liberation Sans","labelFontSize":14,"labelAngle":-90,"labelPadding":6,"labelFlush":false,"labelOverlap":false}}}},
  {"data":{"name":"ellipse"},"transform":[{"filter":"datum.pair == 'Latitude|PANICLELGT'"}],"mark":{"type":"line","color":"black","strokeWidth":1,"interpolate":"cardinal-closed","clip":true},
   "encoding":{"x":{"field":"x","type":"quantitative","axis":{"orient":"bottom","values":[6,8,10,12],"title":null,"domain":false,"grid":false,"tickColor":"black","tickSize":8,"tickWidth":1,"labelColor":"black","labelFont":"Liberation Sans","labelFontSize":14,"labelBaseline":"top","labelPadding":8,"labelFlush":false,"labelOverlap":false}},"y":{"field":"y","type":"quantitative","axis":{"orient":"left","values":[10,20,30,40,50,60],"title":null,"domain":false,"grid":false,"tickColor":"black","tickSize":8,"tickWidth":1,"labelColor":"black","labelFont":"Liberation Sans","labelFontSize":14,"labelAngle":-90,"labelPadding":6,"labelFlush":false,"labelOverlap":false}},"order":{"field":"k"}}},
  {"data":{"name":"fit"},"transform":[{"filter":"datum.pair == 'Latitude|PANICLELGT'"}],"mark":{"type":"line","color":"red","strokeWidth":1.3,"clip":true},
   "encoding":{"x":{"field":"x","type":"quantitative","axis":{"orient":"bottom","values":[6,8,10,12],"title":null,"domain":false,"grid":false,"tickColor":"black","tickSize":8,"tickWidth":1,"labelColor":"black","labelFont":"Liberation Sans","labelFontSize":14,"labelBaseline":"top","labelPadding":8,"labelFlush":false,"labelOverlap":false}},"y":{"field":"y","type":"quantitative","axis":{"orient":"left","values":[10,20,30,40,50,60],"title":null,"domain":false,"grid":false,"tickColor":"black","tickSize":8,"tickWidth":1,"labelColor":"black","labelFont":"Liberation Sans","labelFontSize":14,"labelAngle":-90,"labelPadding":6,"labelFlush":false,"labelOverlap":false}}}},
  {"data":{"name":"centre"},"transform":[{"filter":"datum.pair == 'Latitude|PANICLELGT'"}],"mark":{"type":"circle","size":95,"color":"red","opacity":1},
   "encoding":{"x":{"field":"x","type":"quantitative","axis":{"orient":"bottom","values":[6,8,10,12],"title":null,"domain":false,"grid":false,"tickColor":"black","tickSize":8,"tickWidth":1,"labelColor":"black","labelFont":"Liberation Sans","labelFontSize":14,"labelBaseline":"top","labelPadding":8,"labelFlush":false,"labelOverlap":false}},"y":{"field":"y","type":"quantitative","axis":{"orient":"left","values":[10,20,30,40,50,60],"title":null,"domain":false,"grid":false,"tickColor":"black","tickSize":8,"tickWidth":1,"labelColor":"black","labelFont":"Liberation Sans","labelFontSize":14,"labelAngle":-90,"labelPadding":6,"labelFlush":false,"labelOverlap":false}}}}
 ]},
 {"width":178,"height":177.5,"layer":[
  {"data":{"name":"obs"},"mark":{"type":"circle","size":28,"color":"black","opacity":1},
   "encoding":{"x":{"field":"FLOWERING","type":"quantitative","scale":{"domain":[1.84,6.16],"nice":false,"zero":false},"axis":null},
   "y":{"field":"PANICLELGT","type":"quantitative","scale":{"domain":[7.7,67.2],"nice":false,"zero":false},"axis":null}}},
  {"data":{"name":"ellipse"},"transform":[{"filter":"datum.pair == 'FLOWERING|PANICLELGT'"}],"mark":{"type":"line","color":"black","strokeWidth":1,"interpolate":"cardinal-closed","clip":true},
   "encoding":{"x":{"field":"x","type":"quantitative","axis":null},"y":{"field":"y","type":"quantitative","axis":null},"order":{"field":"k"}}},
  {"data":{"name":"fit"},"transform":[{"filter":"datum.pair == 'FLOWERING|PANICLELGT'"}],"mark":{"type":"line","color":"red","strokeWidth":1.3,"clip":true},
   "encoding":{"x":{"field":"x","type":"quantitative","axis":null},"y":{"field":"y","type":"quantitative","axis":null}}},
  {"data":{"name":"centre"},"transform":[{"filter":"datum.pair == 'FLOWERING|PANICLELGT'"}],"mark":{"type":"circle","size":95,"color":"red","opacity":1},
   "encoding":{"x":{"field":"x","type":"quantitative","axis":null},"y":{"field":"y","type":"quantitative","axis":null}}}
 ]},
 {"width":178,"height":177.5,"layer":[
  {"data":{"name":"obs"},"mark":{"type":"circle","size":28,"color":"black","opacity":1},
   "encoding":{"x":{"field":"PLANTHGT","type":"quantitative","scale":{"domain":[68,484],"nice":false,"zero":false},"axis":{"orient":"bottom","values":[100,200,300,400],"title":null,"domain":false,"grid":false,"tickColor":"black","tickSize":8,"tickWidth":1,"labelColor":"black","labelFont":"Liberation Sans","labelFontSize":14,"labelBaseline":"top","labelPadding":8,"labelFlush":false,"labelOverlap":false}},
   "y":{"field":"PANICLELGT","type":"quantitative","scale":{"domain":[7.7,67.2],"nice":false,"zero":false},"axis":null}}},
  {"data":{"name":"ellipse"},"transform":[{"filter":"datum.pair == 'PLANTHGT|PANICLELGT'"}],"mark":{"type":"line","color":"black","strokeWidth":1,"interpolate":"cardinal-closed","clip":true},
   "encoding":{"x":{"field":"x","type":"quantitative","axis":{"orient":"bottom","values":[100,200,300,400],"title":null,"domain":false,"grid":false,"tickColor":"black","tickSize":8,"tickWidth":1,"labelColor":"black","labelFont":"Liberation Sans","labelFontSize":14,"labelBaseline":"top","labelPadding":8,"labelFlush":false,"labelOverlap":false}},"y":{"field":"y","type":"quantitative","axis":null},"order":{"field":"k"}}},
  {"data":{"name":"fit"},"transform":[{"filter":"datum.pair == 'PLANTHGT|PANICLELGT'"}],"mark":{"type":"line","color":"red","strokeWidth":1.3,"clip":true},
   "encoding":{"x":{"field":"x","type":"quantitative","axis":{"orient":"bottom","values":[100,200,300,400],"title":null,"domain":false,"grid":false,"tickColor":"black","tickSize":8,"tickWidth":1,"labelColor":"black","labelFont":"Liberation Sans","labelFontSize":14,"labelBaseline":"top","labelPadding":8,"labelFlush":false,"labelOverlap":false}},"y":{"field":"y","type":"quantitative","axis":null}}},
  {"data":{"name":"centre"},"transform":[{"filter":"datum.pair == 'PLANTHGT|PANICLELGT'"}],"mark":{"type":"circle","size":95,"color":"red","opacity":1},
   "encoding":{"x":{"field":"x","type":"quantitative","axis":{"orient":"bottom","values":[100,200,300,400],"title":null,"domain":false,"grid":false,"tickColor":"black","tickSize":8,"tickWidth":1,"labelColor":"black","labelFont":"Liberation Sans","labelFontSize":14,"labelBaseline":"top","labelPadding":8,"labelFlush":false,"labelOverlap":false}},"y":{"field":"y","type":"quantitative","axis":null}}}
 ]},
 {"width":178,"height":177.5,"resolve":{"scale":{"y":"independent"}},"layer":[
  {"data":{"name":"hist"},"transform":[{"filter":"datum.variable == 'PANICLELGT'"}],"mark":{"type":"rect","color":"black","clip":true},
   "encoding":{"x":{"field":"start","type":"quantitative","scale":{"domain":[7.7,67.2],"nice":false,"zero":false},"axis":null},"x2":{"field":"end"},
   "y":{"field":"count","type":"quantitative","scale":{"domain":[0,78],"nice":false},"axis":null},"y2":{"datum":0}}},
  {"data":{"name":"density"},"transform":[{"filter":"datum.variable == 'PANICLELGT'"}],"mark":{"type":"line","color":"black","strokeWidth":1,"clip":true},
   "encoding":{"x":{"field":"value","type":"quantitative","scale":{"domain":[7.7,67.2],"nice":false,"zero":false},"axis":null},
   "y":{"field":"relative","type":"quantitative","scale":{"domain":[0,1.5],"nice":false},"axis":null}}},
  {"data":{"name":"variables"},"transform":[{"filter":"datum.name == 'PANICLELGT'"}],"mark":{"type":"text","fontSize":24,"baseline":"middle","dy":-58},"encoding":{"text":{"field":"name"}}}
 ]}
]
}
